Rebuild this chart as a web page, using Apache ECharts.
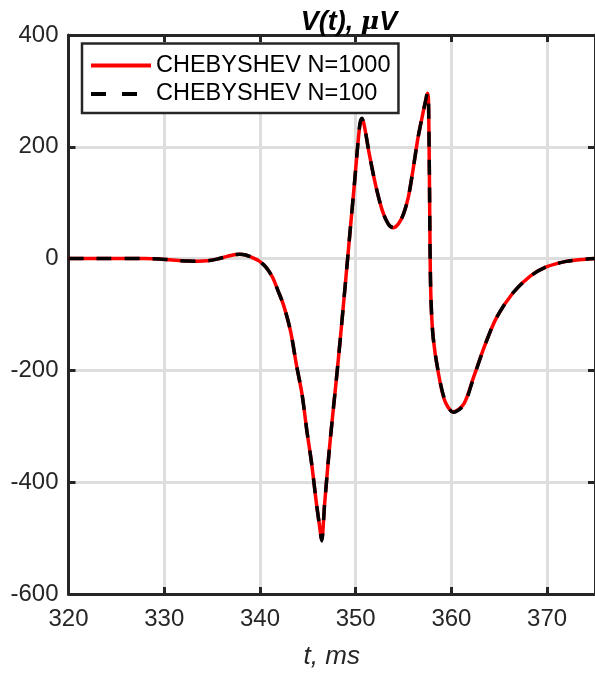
<!DOCTYPE html>
<html>
<head>
<meta charset="utf-8">
<script src="https://cdn.jsdelivr.net/npm/echarts@6/dist/echarts.min.js"></script>
<style>html,body{margin:0;padding:0;background:#fff}#c{width:595px;height:675px}</style>
</head>
<body>
<div id="c"></div>
<script>
// time, ms
var tValues = [320, 322, 324, 326, 328, 329.5, 330.5, 331.5, 332.5, 333.5, 334.5, 335.5, 336.5, 337.3, 337.9, 338.5, 339.2, 339.9, 340.6, 341.3, 341.9, 342.5, 343.2, 343.8, 344.4, 344.9, 345.4, 345.9, 346.2, 346.45, 346.75, 347.2, 347.6, 348.0, 348.5, 349.0, 349.5, 349.9, 350.2, 350.45, 350.65, 350.9, 351.4, 352.1, 352.8, 353.4, 353.9, 354.5, 355.0, 355.5, 356.0, 356.5, 357.0, 357.3, 357.5, 357.6, 357.7, 357.78, 357.88, 358.1, 358.6, 359.3, 360.2, 361.3, 362.3, 363.5, 364.7, 366.4, 368.2, 369.9, 372.0, 374.0, 375.0];
// CHEBYSHEV N=1000, µV
var v1000 = [0, 0, 0, 0, 0, -0.5, -2, -3.5, -4.5, -4.8, -4, -1, 3.5, 7, 8, 6.5, 2, -4, -15, -33, -58, -85, -130, -189, -243, -308, -367, -438, -475, -503, -440, -350, -280, -213, -124, -30, 65, 140, 200, 240, 250, 238, 189, 130, 85, 62, 55, 63, 80, 110, 160, 215, 258, 282, 296, 285, 150, 0, -80, -142, -201, -254, -274, -260, -213, -155, -106, -62, -32, -15, -5, -1, 0];
// CHEBYSHEV N=100, µV
var v100 = [0, 0, 0, 0, 0, -0.5, -2, -3.5, -4.5, -4.8, -4, -1, 3.5, 7, 8, 6.5, 2, -4, -15, -33, -58, -85, -130, -189, -243, -308, -367, -438, -475, -505, -440, -350, -280, -213, -124, -30, 65, 140, 200, 242, 251, 238, 189, 130, 85, 62, 56, 63, 80, 110, 160, 215, 258, 282, 297, 285, 150, 0, -80, -142, -200, -252, -275, -262, -214, -155, -106, -62, -32, -15, -5, -1, 0];
var xTicks = {min: 320, max: 375, interval: 10};
var yTicks = {min: -600, max: 400, interval: 200};

function pairs(ts, vs) { return ts.map(function (t, i) { return [t, vs[i]]; }); }

var FONT = 'Liberation Sans, Arial, Helvetica, sans-serif';
var DARK = '#262626';
var chart = echarts.init(document.getElementById('c'), null, {renderer: 'canvas'});
var baseAxis = {
  type: 'value',
  axisLine: {show: true, onZero: false, lineStyle: {color: DARK, width: 3}},
  axisTick: {show: true, inside: true, length: 7, lineStyle: {color: DARK, width: 3}},
  splitLine: {show: false}
};
chart.setOption({
  animation: false,
  backgroundColor: '#fff',
  title: {
    text: '{b|V(t), }{m|μ}{b|V}',
    left: 344, top: 4, textAlign: 'center',
    textStyle: {
      rich: {
        b: {fontFamily: FONT, fontSize: 27, fontWeight: 'bold', fontStyle: 'italic', color: '#000'},
        m: {fontFamily: 'DejaVu Serif, serif', fontSize: 25, fontStyle: 'italic', color: '#000'}
      }
    }
  },
  grid: {left: 68.5, right: -5, top: 35, bottom: 77, containLabel: false},
  legend: {
    orient: 'vertical', left: 82, top: 43.5,
    padding: [10, 8, 7, 7], itemGap: 4.5, itemWidth: 60, itemHeight: 0.5,
    backgroundColor: '#fff', borderColor: DARK, borderWidth: 2.5,
    lineStyle: {width: 4},
    textStyle: {fontFamily: FONT, fontSize: 23.5, color: '#000'},
    data: [
      {name: 'CHEBYSHEV N=1000', lineStyle: {width: 4}},
      {name: 'CHEBYSHEV N=100', lineStyle: {width: 4, type: [15, 16]}}
    ]
  },
  xAxis: [
    Object.assign({}, baseAxis, {
      position: 'bottom', min: xTicks.min, max: xTicks.max, interval: xTicks.interval,
      name: 't, ms', nameLocation: 'middle', nameGap: 50,
      nameTextStyle: {fontFamily: FONT, fontSize: 26, fontStyle: 'italic', color: DARK},
      axisLabel: {fontFamily: FONT, fontSize: 24, color: DARK, margin: 13, showMaxLabel: false},
      splitLine: {show: true, lineStyle: {color: '#dedede', width: 3}}
    }),
    Object.assign({}, baseAxis, {
      position: 'top', min: xTicks.min, max: xTicks.max, interval: xTicks.interval,
      axisLabel: {show: false}
    })
  ],
  yAxis: [
    Object.assign({}, baseAxis, {
      position: 'left', min: yTicks.min, max: yTicks.max, interval: yTicks.interval,
      axisLabel: {fontFamily: FONT, fontSize: 24, color: DARK, margin: 10},
      splitLine: {show: true, lineStyle: {color: '#dedede', width: 3}}
    }),
    Object.assign({}, baseAxis, {
      position: 'right', min: yTicks.min, max: yTicks.max, interval: yTicks.interval,
      axisLabel: {show: false}
    })
  ],
  series: [
    {
      name: 'CHEBYSHEV N=1000', type: 'line', xAxisIndex: 0, yAxisIndex: 0,
      data: pairs(tValues, v1000), symbol: 'none', smooth: 0.3, z: 3,
      lineStyle: {color: '#ff0000', width: 3.5}, itemStyle: {color: '#ff0000'}
    },
    {
      name: 'CHEBYSHEV N=100', type: 'line', xAxisIndex: 0, yAxisIndex: 0,
      data: pairs(tValues, v100), symbol: 'none', smooth: 0.3, z: 4,
      lineStyle: {color: '#000000', width: 3.5, type: [15, 13]}, itemStyle: {color: '#000000'}
    }
  ]
});
</script>
</body>
</html>
